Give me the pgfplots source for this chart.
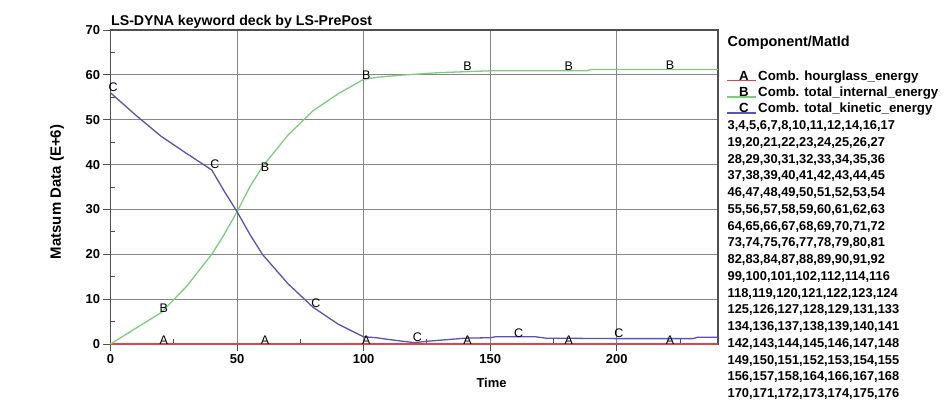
\documentclass[border=0pt]{standalone}
\usepackage{fontspec}
\setmainfont{Liberation Sans}
\usepackage{pgfplots}
\pgfplotsset{compat=1.18}

\definecolor{hgred}{RGB}{220,70,70}
\definecolor{ingreen}{RGB}{125,205,125}
\definecolor{kiblue}{RGB}{85,85,180}
\definecolor{gridgray}{RGB}{135,135,135}
\definecolor{framegray}{RGB}{80,80,80}

\newcommand{\fs}[1]{\fontsize{#1}{#1}\selectfont}

\begin{document}
\begin{tikzpicture}
\begin{axis}[
  name=ax,
  scale only axis,
  width=607.5bp, height=314bp,
  xmin=0, xmax=240, ymin=0, ymax=70,
  xtick={0,50,...,200}, ytick={0,10,...,70},
  minor xtick={25,75,...,225}, minor ytick={5,15,...,65},
  grid=major,
  major grid style={draw=gridgray, line width=1bp},
  axis line style={draw=framegray, line width=1.2bp},
  tick align=outside, xtick pos=left, ytick pos=left,
  major tick length=7bp, minor tick length=5bp,
  every tick/.style={draw=framegray, line width=1bp},
  minor x tick style={yshift=5bp},
  minor y tick style={xshift=5bp},
  /pgf/number format/assume math mode=true,
  ticklabel style={font=\bfseries\fs{13}},
  clip=false,
]
% A: hourglass energy
\addplot[hgred, line width=1.3bp] coordinates {(0,0) (240,0)};
% B: internal energy
\addplot[ingreen, line width=1.3bp] coordinates {
  (0,0) (20,7) (30,12.8) (40,20) (45,24.5) (50,29.5) (55,35) (60,39.5)
  (70,46.5) (80,52) (90,55.8) (100,59) (106,59.5) (114,59.9) (130,60.5)
  (150,60.9) (188,60.9) (190,61.2) (240,61.2)};
% C: kinetic energy
\addplot[kiblue, line width=1.3bp] coordinates {
  (0,56) (10,51) (20,46.3) (30,42.5) (40,38.8) (45,34) (50,29.5) (55,24.5)
  (60,20) (70,13.5) (80,8.2) (90,4.4) (100,1.6) (105,1.4) (110,1.0)
  (120,0.3) (125,0.6) (140,1.3) (150,1.4) (152,1.6) (168,1.6) (172,1.3)
  (200,1.2) (230,1.2) (232,1.5) (240,1.5)};
% curve letters
\addplot[black, only marks, mark=text, text mark={\fs{12.5}A}] coordinates {
  (21,0.9) (61,0.9) (101,0.9) (141,0.9) (181,0.9) (221,0.9)};
\addplot[black, only marks, mark=text, text mark={\fs{12.5}B}] coordinates {
  (21,8) (61,39.5) (101,59.9) (141,62) (181,61.9) (221,62.1)};
\addplot[black, only marks, mark=text, text mark={\fs{12.5}C}] coordinates {
  (1,57.2) (41.2,40) (81.1,9.2) (121.2,1.6) (161.2,2.4) (200.8,2.4)};
\end{axis}

\begin{scope}[shift={(ax.south west)}]
  \node[anchor=base west, font=\bfseries\fs{14.2}, inner sep=0pt] at (0.5bp,318bp)
    {LS-DYNA keyword deck by LS-PrePost};
  \node[rotate=90, font=\bfseries\fs{15}] at (-53.5bp,152bp) {Matsum Data (E+6)};
  \node[font=\bfseries\fs{13}] at (381bp,-39bp) {Time};

  % legend
  \node[anchor=base west, font=\bfseries\fs{14.5}, inner sep=0pt] at (617bp,297bp)
    {Component/MatId};
  \foreach \lab/\txt/\col [count=\i from 0] in
    {A/Comb. hourglass\_energy/hgred,
     B/Comb. total\_internal\_energy/ingreen,
     C/Comb. total\_kinetic\_energy/kiblue} {
    \pgfmathsetmacro{\yc}{344-75.7-16.2*\i}
    \draw[\col, line width=1.3bp] (616.5bp,\yc bp-5bp) -- (645.5bp,\yc bp-5bp);
    \node[anchor=base, font=\bfseries\fs{13.3}, inner sep=0pt] at (633.5bp,\yc bp-4.7bp) {\lab};
    \node[anchor=base west, font=\bfseries\fs{13.3}, inner sep=0pt] at (647.5bp,\yc bp-4.7bp) {\txt};
  }
  \foreach \txt [count=\j from 0] in {
    {3,4,5,6,7,8,10,11,12,14,16,17},
    {19,20,21,22,23,24,25,26,27},
    {28,29,30,31,32,33,34,35,36},
    {37,38,39,40,41,42,43,44,45},
    {46,47,48,49,50,51,52,53,54},
    {55,56,57,58,59,60,61,62,63},
    {64,65,66,67,68,69,70,71,72},
    {73,74,75,76,77,78,79,80,81},
    {82,83,84,87,88,89,90,91,92},
    {99,100,101,102,112,114,116},
    {118,119,120,121,122,123,124},
    {125,126,127,128,129,131,133},
    {134,136,137,138,139,140,141},
    {142,143,144,145,146,147,148},
    {149,150,151,152,153,154,155},
    {156,157,158,164,166,167,168},
    {170,171,172,173,174,175,176}} {
    \pgfmathsetmacro{\yc}{344-125-16.75*\j}
    \node[anchor=base west, font=\bfseries\fs{12.9}, inner sep=0pt] at (617bp,\yc bp-4.6bp) {\txt};
  }
\end{scope}

\pgfresetboundingbox
\path[use as bounding box] ([shift={(-110.5bp,-57bp)}]ax.south west) rectangle ([shift={(841.5bp,344bp)}]ax.south west);
\end{tikzpicture}
\end{document}
